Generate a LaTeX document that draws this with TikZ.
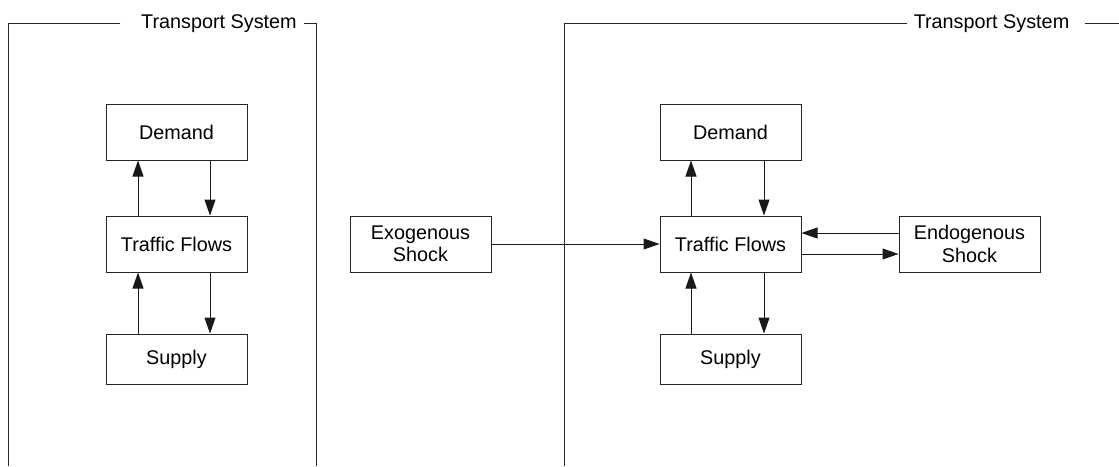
\documentclass[tikz,border=0pt]{standalone}
\usepackage{fontspec}
\setmainfont{Liberation Sans}
\usetikzlibrary{arrows.meta}
\begin{document}
\begin{tikzpicture}[x=1pt,y=-1pt,
  txt/.style={font=\fontsize{19.8}{22.5}\selectfont},
  box/.style={txt, draw=black!85, line width=1pt, minimum width=141pt, minimum height=56pt, inner sep=0pt, align=center},
  sbox/.style={box, minimum height=50pt},
  conn/.style={draw=black!90, line width=1pt, -{Triangle[length=16pt,width=11pt]}},
  framel/.style={draw=black!85, line width=1pt},
  lbl/.style={txt, inner sep=0pt, anchor=base}]
\useasboundingbox (0,0) rectangle (1119,466);
% frames
\node[lbl] (L1) at (219,28) {Transport System};
\node[lbl] (L2) at (991.5,28) {Transport System};
\coordinate (f1a) at (120,23); \coordinate (f1b) at (8,23); \coordinate (f1c) at (8,466);
\coordinate (f1d) at (304,23); \coordinate (f1e) at (316,23); \coordinate (f1f) at (316,466);
\coordinate (f2a) at (907,23); \coordinate (f2b) at (564,23); \coordinate (f2c) at (564,466);
\coordinate (f2d) at (1085,23); \coordinate (f2e) at (1119,23);
\draw[framel] (f1a) -- (f1b) -- (f1c);
\draw[framel] (f1d) -- (f1e) -- (f1f);
\draw[framel] (f2a) -- (f2b) -- (f2c);
\draw[framel] (f2d) -- (f2e);
% left group
\node[box] (d1) at (176.5,132) {Demand};
\node[box] (t1) at (176.5,244) {Traffic Flows};
\node[sbox] (s1) at (176.5,359) {Supply};
\coordinate (a1) at (138,0); \coordinate (b1) at (210,0);
\draw[conn] (a1 |- t1.north) -- (a1 |- d1.south);
\draw[conn] (b1 |- d1.south) -- (b1 |- t1.north);
\draw[conn] (a1 |- s1.north) -- (a1 |- t1.south);
\draw[conn] (b1 |- t1.south) -- (b1 |- s1.north);
% right group
\node[box] (ex) at (420.5,244) {Exogenous\\Shock};
\node[box] (d2) at (730.5,132) {Demand};
\node[box] (t2) at (730.5,244) {Traffic Flows};
\node[sbox] (s2) at (730.5,359) {Supply};
\node[box] (en) at (969.5,244) {Endogenous\\Shock};
\coordinate (a2) at (691,0); \coordinate (b2) at (764,0);
\draw[conn] (a2 |- t2.north) -- (a2 |- d2.south);
\draw[conn] (b2 |- d2.south) -- (b2 |- t2.north);
\draw[conn] (a2 |- s2.north) -- (a2 |- t2.south);
\draw[conn] (b2 |- t2.south) -- (b2 |- s2.north);
\draw[conn] (ex.east) -- (t2.west);
\draw[conn] ([yshift=11pt]en.west) -- ([yshift=11pt]t2.east);
\draw[conn] ([yshift=-10pt]t2.east) -- ([yshift=-10pt]en.west);
\end{tikzpicture}
\end{document}
